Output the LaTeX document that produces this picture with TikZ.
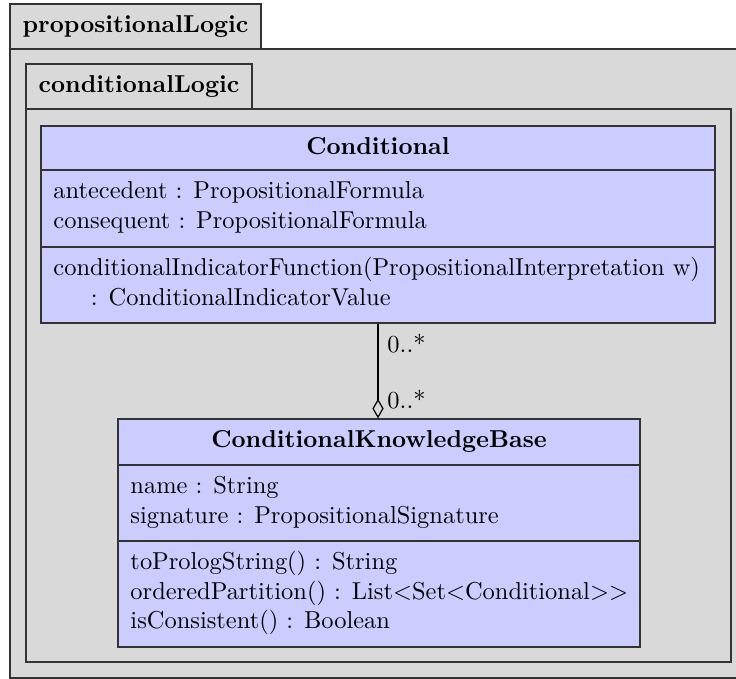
\documentclass[tikz,border=0pt]{standalone}
\usetikzlibrary{arrows.meta,fit}
\definecolor{pkgfill}{gray}{0.85}
\definecolor{clsfill}{RGB}{204,204,255}
\definecolor{edge}{gray}{0.2}
\begin{document}
\begin{tikzpicture}[x=0.409pt,y=-0.409pt,
  pkg/.style={draw=edge, fill=pkgfill, line width=0.5pt, inner sep=0pt},
  cls/.style={draw=edge, fill=clsfill, line width=0.5pt, inner sep=0pt},
  sepline/.style={draw=edge, line width=0.5pt},
  txt/.style={anchor=base west, inner sep=0pt},
  ttl/.style={anchor=base, inner sep=0pt, font=\bfseries},
  mult/.style={anchor=base west, inner sep=0pt},
  assoc/.style={draw=black, line width=0.5pt}]
\useasboundingbox (0,0) rectangle (736,679);
% outer package
\node[pkg, fit={(10,4) (261,49)}] (outertab) {};
\node[pkg, fit={(10,49) (747,678)}] (outerbody) {};
\node[ttl] (outername) at (135.5,33) {propositionalLogic};
% inner package
\node[pkg, fit={(26,64) (252,109)}] (innertab) {};
\node[pkg, fit={(26,109) (731,662)}] (innerbody) {};
\node[ttl] (innername) at (139,93) {conditionalLogic};
% class Conditional
\node[cls, fit={(41,126) (715,323)}] (cond) {};
\draw[sepline] (41,170) -- (715,170);
\draw[sepline] (41,247) -- (715,247);
\node[ttl] (condname) at (378,155) {Conditional};
\node[txt] (ca1) at (53,199) {antecedent : PropositionalFormula};
\node[txt] (ca2) at (53,228.5) {consequent : PropositionalFormula};
\node[txt] (co1) at (53,276) {conditionalIndicatorFunction(PropositionalInterpretation w)};
\node[txt] (co2) at (90.5,305.5) {: ConditionalIndicatorValue};
% class ConditionalKnowledgeBase
\node[cls, fit={(118,419) (640,647)}] (ckb) {};
\draw[sepline] (118,465) -- (640,465);
\draw[sepline] (118,541) -- (640,541);
\node[ttl] (ckbname) at (379,448) {ConditionalKnowledgeBase};
\node[txt] (ka1) at (130,494) {name : String};
\node[txt] (ka2) at (130,523.5) {signature : PropositionalSignature};
\node[txt] (ko1) at (130,570) {toPrologString() : String};
\node[txt] (ko2) at (130,599.5) {orderedPartition() : List<Set<Conditional>{}>};
\node[txt] (ko3) at (130,629) {isConsistent() : Boolean};
% association
\draw[assoc, -{Diamond[open,length=8pt,width=4.6pt]}] (cond.south) -- (cond.south |- ckb.north);
\node[mult] (m1) at (387,353) {0..*};
\node[mult] (m2) at (387,409) {0..*};
\end{tikzpicture}
\end{document}
